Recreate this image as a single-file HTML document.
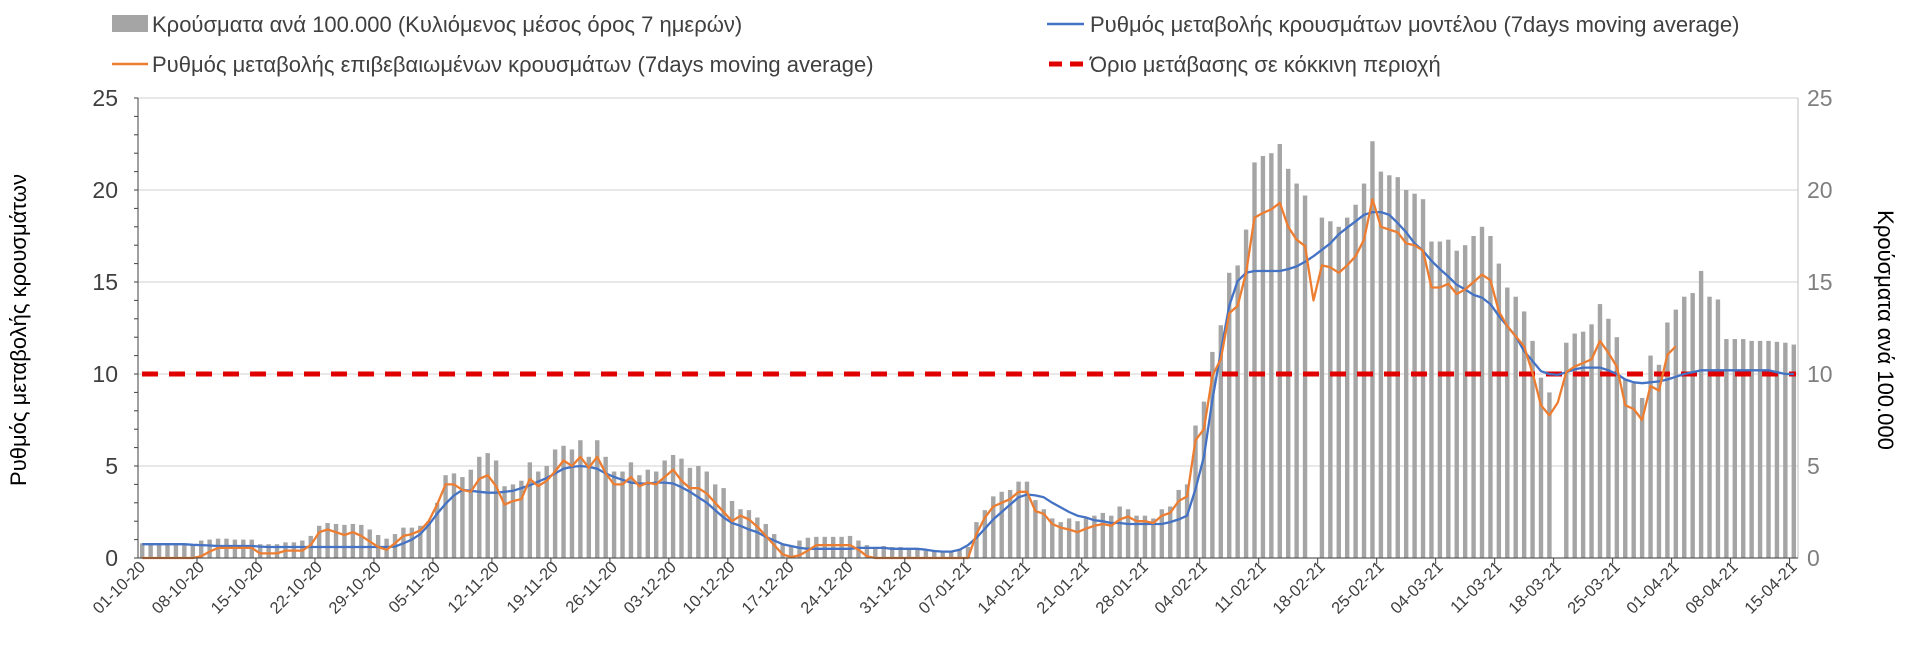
<!DOCTYPE html>
<html><head><meta charset="utf-8"><style>
html,body{margin:0;padding:0;background:#fff;}
svg{display:block;font-family:"Liberation Sans",Arial,sans-serif;}
</style></head><body>
<svg id="chart" width="1920" height="670" viewBox="0 0 1920 670" xmlns="http://www.w3.org/2000/svg">
<g id="legend" font-size="22" fill="#404040">
  <g><rect x="112" y="15" width="36" height="17" fill="#a5a5a5"/><text x="152" y="32">Κρούσματα ανά 100.000 (Κυλιόμενος μέσος όρος 7 ημερών)</text></g>
  <g><line x1="1047" y1="24" x2="1084" y2="24" stroke="#4472c4" stroke-width="2.5"/><text x="1090" y="32">Ρυθμός μεταβολής κρουσμάτων μοντέλου (7days moving average)</text></g>
  <g><line x1="112" y1="64" x2="148" y2="64" stroke="#ed7d31" stroke-width="2.5"/><text x="152" y="72">Ρυθμός μεταβολής επιβεβαιωμένων κρουσμάτων (7days moving average)</text></g>
  <g><line x1="1049" y1="64" x2="1084" y2="64" stroke="#e00000" stroke-width="5" stroke-dasharray="13,8"/><text x="1090" y="72">Όριο μετάβασης σε κόκκινη περιοχή</text></g>
</g>
<g id="grid"></g>
<g id="bars"></g>
<g id="lines"></g>
<g id="axes"></g>
<text transform="translate(26,330) rotate(-90)" text-anchor="middle" font-size="22" fill="#000">Ρυθμός μεταβολής κρουσμάτων</text>
<text transform="translate(1878,330) rotate(90)" text-anchor="middle" font-size="22" fill="#000">Κρούσματα ανά 100.000</text>
</svg>
<script>
const cases=[0.8,0.75,0.75,0.75,0.75,0.7,0.7,0.95,1.0,1.05,1.05,1.0,1.0,1.0,0.75,0.75,0.75,0.85,0.85,0.95,1.2,1.75,1.9,1.85,1.8,1.85,1.8,1.55,1.25,1.05,1.3,1.65,1.65,1.75,2.0,3.0,4.5,4.6,4.4,4.8,5.5,5.7,5.3,3.9,4.0,4.2,5.2,4.7,5.0,5.9,6.1,5.9,6.4,5.5,6.4,5.5,4.7,4.7,5.2,4.5,4.8,4.7,5.3,5.6,5.4,4.9,5.0,4.7,4.0,3.8,3.1,2.65,2.6,2.2,1.85,1.3,0.75,0.65,0.95,1.1,1.15,1.15,1.15,1.15,1.2,0.95,0.7,0.6,0.65,0.6,0.6,0.55,0.5,0.4,0.35,0.35,0.35,0.5,0.6,1.95,2.6,3.35,3.6,3.7,4.15,4.15,3.15,2.65,2.15,1.95,2.15,2.0,2.15,2.3,2.45,2.3,2.8,2.65,2.3,2.3,2.15,2.65,2.8,3.7,4.0,7.2,8.5,11.2,12.65,15.5,15.9,17.85,21.5,21.85,22.0,22.5,21.15,20.35,19.7,null,18.5,18.3,18.0,18.5,19.2,20.35,22.65,21.0,20.8,20.7,20.0,19.8,19.5,17.2,17.2,17.3,16.7,17.0,17.5,18.0,17.5,16.0,14.7,14.2,13.4,11.8,9.8,9.0,null,11.7,12.2,12.3,12.7,13.8,13.0,12.0,9.7,9.5,8.7,11.0,10.5,12.8,13.5,14.2,14.4,15.6,14.2,14.05,11.9,11.9,11.9,11.8,11.8,11.8,11.75,11.7,11.6];
const confirmed=[0,0,0,0,0,0,0,0.1,0.35,0.55,0.55,0.55,0.55,0.55,0.25,0.25,0.25,0.4,0.4,0.4,0.7,1.4,1.55,1.4,1.25,1.4,1.2,0.9,0.6,0.45,0.8,1.2,1.3,1.5,2.0,2.9,4.0,4.0,3.7,3.6,4.3,4.5,3.9,2.9,3.1,3.2,4.3,3.9,4.2,4.7,5.3,5.0,5.5,4.9,5.5,4.6,4.0,4.0,4.4,3.9,4.1,4.0,4.4,4.8,4.2,3.8,3.8,3.5,3.0,2.5,2.0,2.3,2.1,1.7,1.2,0.7,0.2,0.05,0.15,0.4,0.7,0.7,0.7,0.7,0.7,0.45,0.1,0,0,0,0,0,0,0,0,0,0,0,0,1.3,2.2,2.8,3.0,3.2,3.6,3.6,2.55,2.4,1.85,1.65,1.55,1.4,1.6,1.75,1.85,1.75,2.1,2.25,2.0,2.0,1.9,2.3,2.45,3.1,3.35,6.4,7.0,9.9,10.8,13.3,13.7,15.5,18.5,18.75,18.95,19.3,18.0,17.3,16.95,14.0,15.9,15.8,15.5,15.9,16.4,17.3,19.5,18.0,17.85,17.7,17.1,17.0,16.7,14.7,14.7,14.9,14.35,14.6,15.0,15.4,15.1,13.4,12.6,12.05,11.5,10.05,8.3,7.75,8.45,10.1,10.4,10.6,10.8,11.8,11.15,10.4,8.3,8.1,7.5,9.35,9.1,11.05,11.5];
const model=[0.75,0.75,0.75,0.75,0.75,0.75,0.72,0.7,0.68,0.65,0.65,0.65,0.65,0.65,0.62,0.6,0.6,0.6,0.6,0.6,0.6,0.6,0.6,0.6,0.6,0.6,0.6,0.6,0.6,0.6,0.62,0.8,1.0,1.3,1.8,2.4,2.95,3.4,3.7,3.65,3.6,3.55,3.55,3.6,3.65,3.8,3.95,4.15,4.35,4.6,4.85,4.95,5.0,4.95,4.85,4.6,4.4,4.25,4.1,4.05,4.05,4.1,4.1,4.05,3.85,3.6,3.3,3.0,2.6,2.2,1.9,1.75,1.55,1.4,1.15,0.95,0.75,0.65,0.55,0.5,0.5,0.5,0.5,0.5,0.5,0.55,0.55,0.55,0.55,0.5,0.5,0.5,0.5,0.45,0.38,0.35,0.35,0.45,0.7,1.1,1.6,2.1,2.5,2.9,3.3,3.45,3.4,3.3,3.0,2.75,2.5,2.3,2.2,2.05,2.0,1.9,1.9,1.85,1.85,1.85,1.85,1.85,1.95,2.1,2.3,3.75,5.5,8.6,11.2,13.7,15.05,15.5,15.6,15.6,15.6,15.6,15.7,15.85,16.1,16.4,16.75,17.1,17.6,17.95,18.3,18.65,18.8,18.8,18.65,18.2,17.7,17.1,16.7,16.15,15.7,15.3,14.85,14.6,14.3,14.15,13.8,13.15,12.6,12.05,11.25,10.7,10.15,10.0,9.95,10.1,10.25,10.35,10.35,10.35,10.2,10.0,9.7,9.55,9.5,9.55,9.6,9.7,9.85,10.0,10.1,10.2,10.2,10.2,10.2,10.2,10.2,10.2,10.2,10.2,10.1,10.0,10.0];
const threshold=[10];
const yTicks=[0,5,10,15,20,25];
const dateLabels=["01-10-20","08-10-20","15-10-20","22-10-20","29-10-20","05-11-20","12-11-20","19-11-20","26-11-20","03-12-20","10-12-20","17-12-20","24-12-20","31-12-20","07-01-21","14-01-21","21-01-21","28-01-21","04-02-21","11-02-21","18-02-21","25-02-21","04-03-21","11-03-21","18-03-21","25-03-21","01-04-21","08-04-21","15-04-21"];

const NS="http://www.w3.org/2000/svg";
const X0=138,X1=1798,Y0=558,Y1=98,NDAYS=197;
const step=(X1-X0)/NDAYS;
function xS(d){return X0+step*(d+0.5);}
function yS(v){return Y0-(v/25)*(Y0-Y1);}
function mk(tag,attrs,parent){const e=document.createElementNS(NS,tag);for(const k in attrs)e.setAttribute(k,attrs[k]);parent.appendChild(e);return e;}
const grid=document.getElementById('grid'),bars=document.getElementById('bars'),lines=document.getElementById('lines'),axes=document.getElementById('axes');
yTicks.forEach(t=>{
  const g=mk('line',{x1:X0,x2:X1,y1:yS(t),y2:yS(t),stroke:'#d9d9d9','stroke-width':1.3},grid);
  
  
  const l=mk('text',{x:X0-20,y:yS(t)+8,'text-anchor':'end','font-size':23,fill:'#404040'},axes);l.textContent=t;
  
  
  const r=mk('text',{x:X1+9,y:yS(t)+8,'font-size':23,fill:'#7f7f7f'},axes);r.textContent=t;
  
  
});
for(let v=0;v<=25;v+=1){const tk=mk('line',{x1:X0-4,x2:X0,y1:yS(v),y2:yS(v),stroke:'#404040','stroke-width':1},axes);
  
  }
cases.forEach((v,d)=>{if(v==null)return;
  const b=mk('rect',{x:xS(d)-2.2,y:yS(v),width:4.4,height:Y0-yS(v),fill:'#a5a5a5'},bars);
  
  
});
const th=mk('line',{x1:X0+4,x2:X1-2,y1:yS(threshold[0]),y2:yS(threshold[0]),stroke:'#e00000','stroke-width':5,'stroke-dasharray':'16,11'},lines);


function path(arr,color,name){
  const pts=arr.map((v,d)=>xS(d).toFixed(1)+','+yS(v).toFixed(1));
  const p=mk('polyline',{points:pts.join(' '),fill:'none',stroke:color,'stroke-width':2.3,'stroke-linejoin':'round'},lines);
  
  
}
path(model,'#4472c4','model-rate-line');
path(confirmed,'#ed7d31','confirmed-rate-line');
const la=mk('line',{x1:X0,x2:X0,y1:Y1,y2:Y0,stroke:'#404040','stroke-width':1},axes);


const ra=mk('line',{x1:X1,x2:X1,y1:Y1,y2:Y0,stroke:'#bfbfbf','stroke-width':1},axes);


const xa=mk('line',{x1:X0,x2:X1,y1:Y0,y2:Y0,stroke:'#404040','stroke-width':1},axes);


dateLabels.forEach((s,i)=>{
  const d=i*7;
  const tx=X0+step*(d+7);
  if(tx<X1){const tk=mk('line',{x1:tx,x2:tx,y1:Y0,y2:Y0+6,stroke:'#404040','stroke-width':1},axes);
    
    }
  const x=xS(d)+4,y=Y0+10;
  const t=mk('text',{x:x,y:y,'text-anchor':'end','font-size':16.5,fill:'#404040',transform:`rotate(-45 ${x} ${y})`},axes);
  t.textContent=s;
  
  
});
</script>
</body></html>
